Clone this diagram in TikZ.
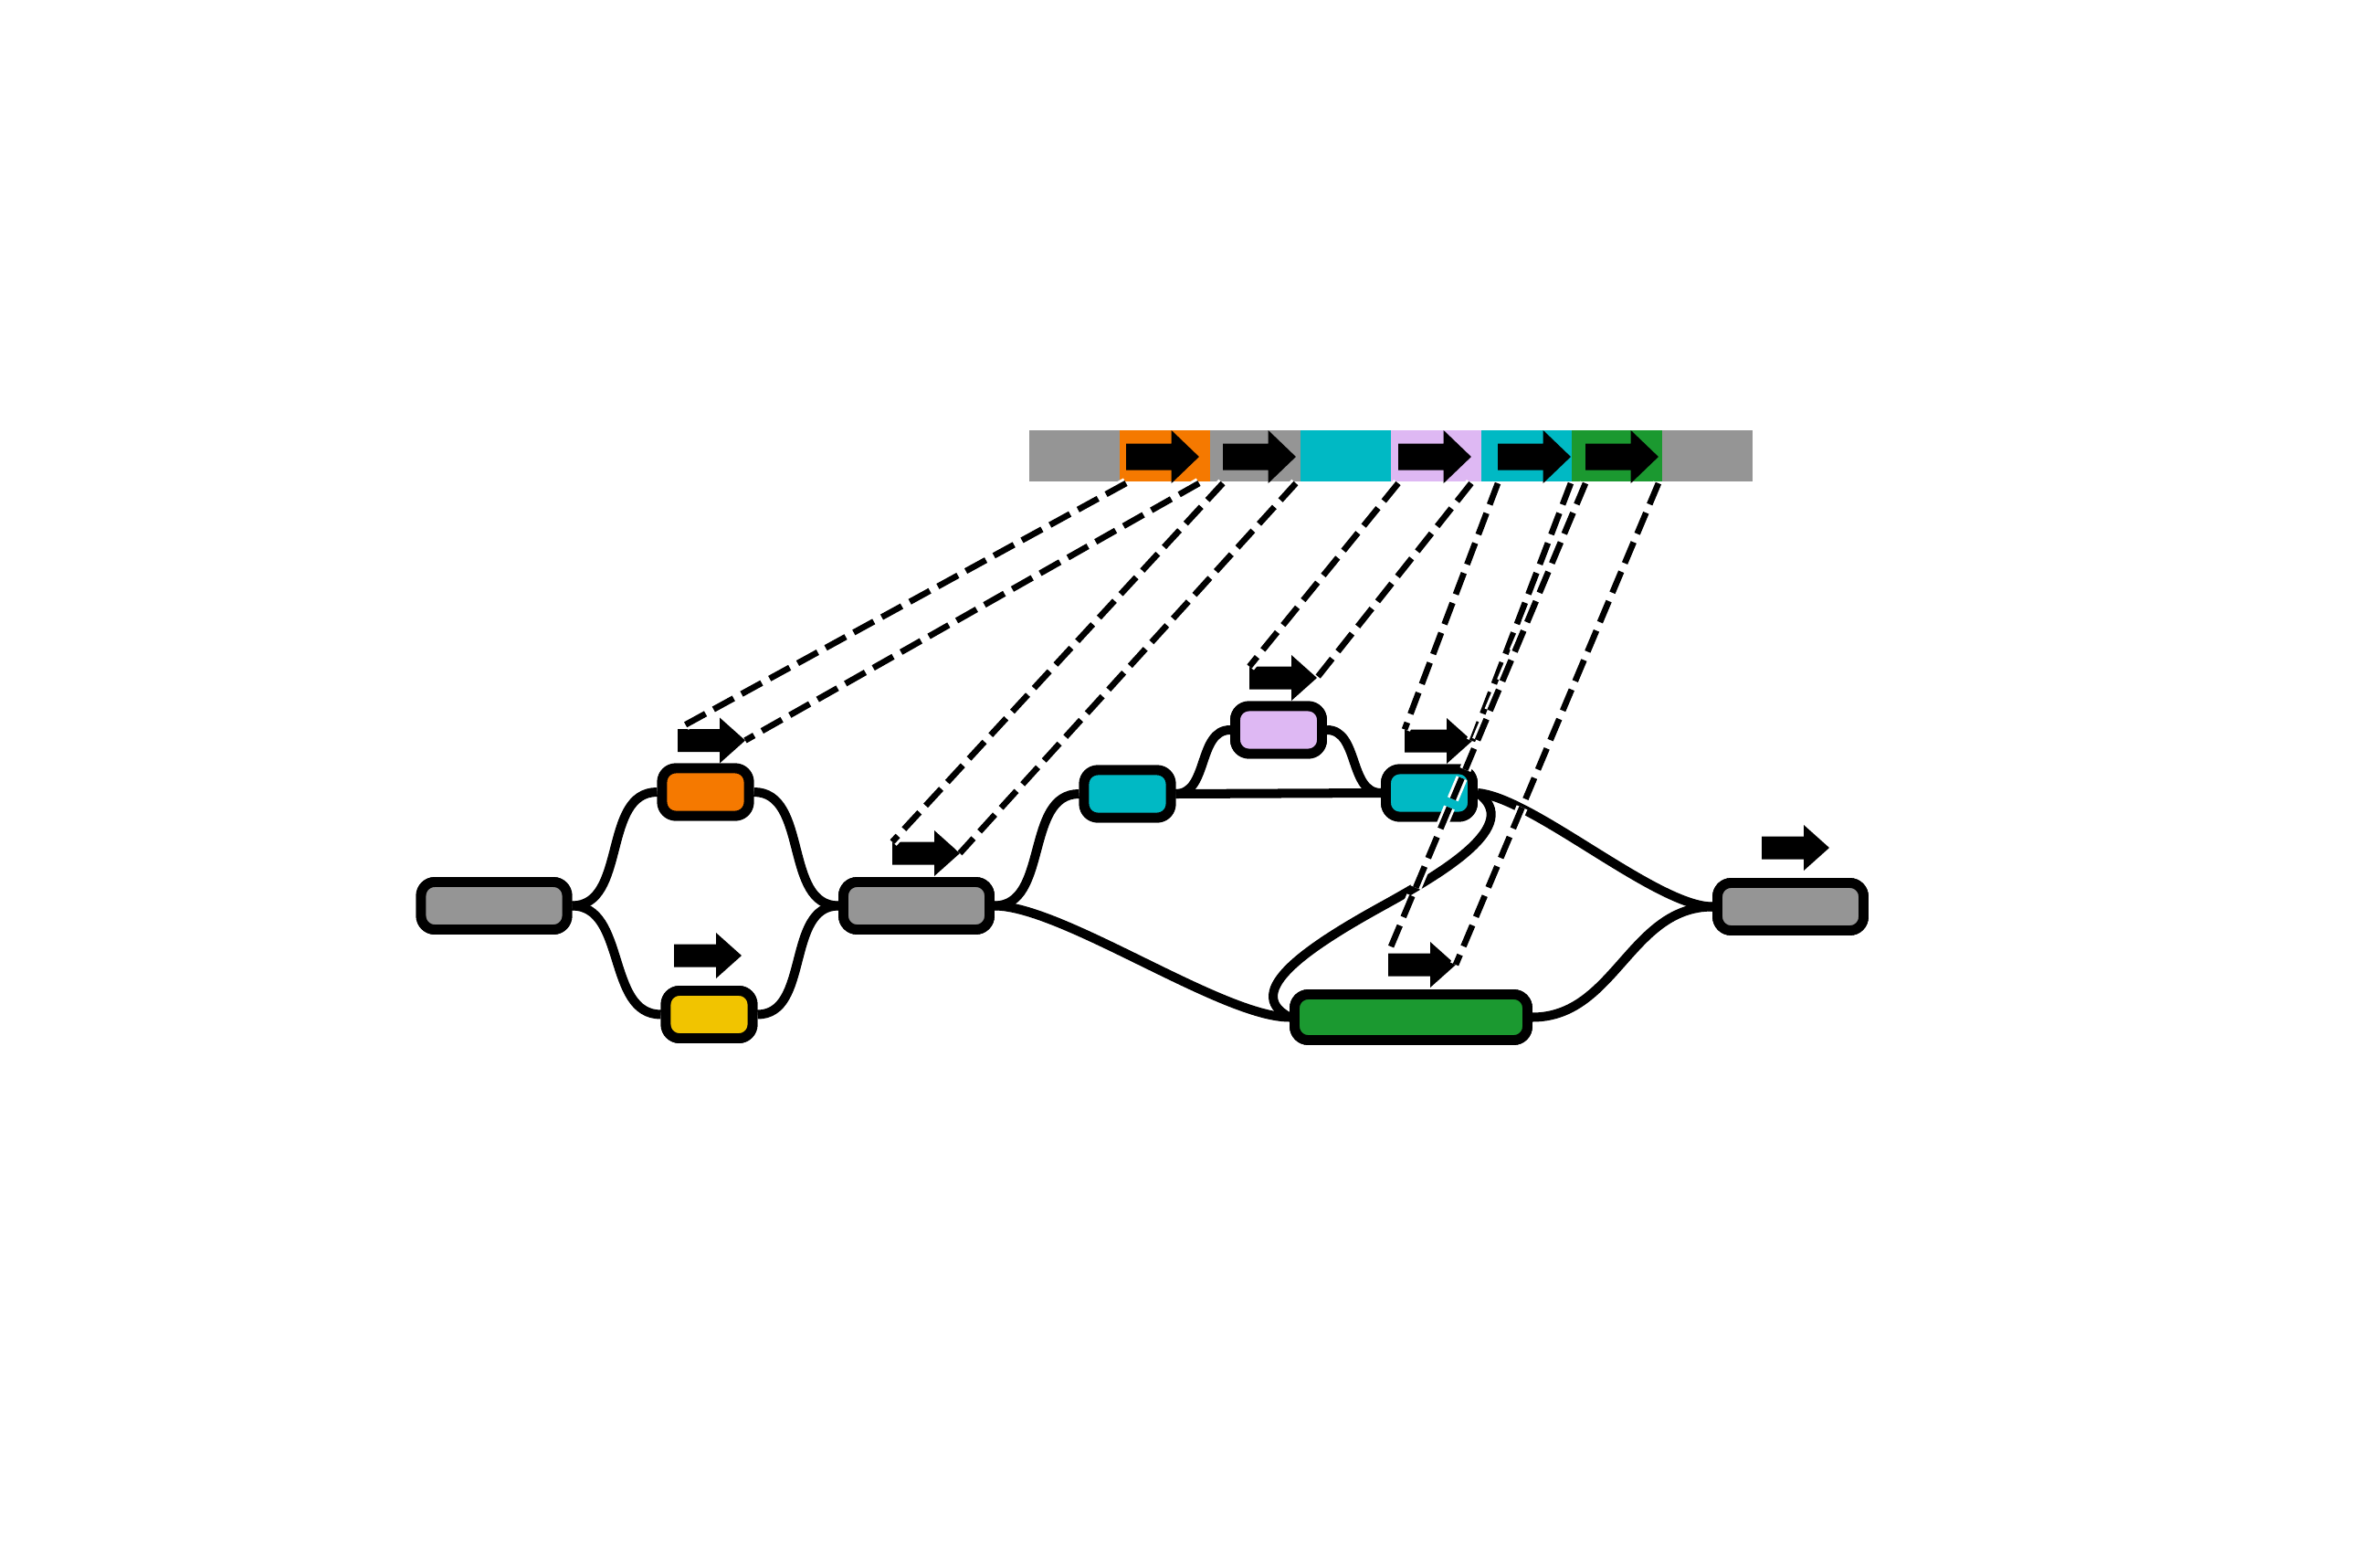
\documentclass[tikz,border=0pt]{standalone}
\usepackage{xcolor}
\usepackage{tikz}

\definecolor{segGray}{RGB}{149,149,149}
\definecolor{segOrange}{RGB}{245,121,0}
\definecolor{segYellow}{RGB}{241,196,0}
\definecolor{segCyan}{RGB}{0,185,196}
\definecolor{segLilac}{RGB}{222,184,243}
\definecolor{segGreen}{RGB}{27,153,48}

\tikzset{
	seg/.style={draw, line width=3.1pt, rounded corners=0.15cm, inner sep=0pt, minimum height=0.52cm, minimum width=0.95cm},
	wideseg/.style={seg, minimum width=1.60cm},
	wire/.style={line width=2.85pt},
	link/.style={line width=1.9pt, dash pattern=on 0.25cm off 0.1cm,
		preaction={draw=white, line width=3.6pt, dash pattern=on 0.25cm off 0.1cm}},
	blockarrow/.pic={
		\fill (0,-0.125) -- (0.46,-0.125) -- (0.46,-0.25) -- (0.74,0) -- (0.46,0.25) -- (0.46,0.125) -- (0,0.125) -- cycle;
		\coordinate (-tl) at (0,0.125);
		\coordinate (-tip) at (0.74,0);
		\coordinate (-bl) at (0,-0.25);
		\coordinate (-br) at (0.74,-0.25);
	}
}

\begin{document}
\begin{tikzpicture}
		\useasboundingbox (0,0) rectangle (26.06,-17.12);
		
		% the genome bar
		\foreach \c [count=\i from 0] in {segGray,segOrange,segGray,segCyan,segLilac,segCyan,segGreen,segGray}{
			\fill[\c] ({11.27+0.99*\i},-4.71) rectangle ++(0.99,-0.56);
		}
		\foreach \s/\x in {Orange/12.33, GrayB/13.39, Lilac/15.31, CyanB/16.40, Green/17.36}{
			\pic[xscale=1.08, yscale=1.16] (bar\s) at (\x,-5.00) {blockarrow};
		}
		
		% graph segments
		\node[wideseg, fill=segGray] (gA) at (5.41,-9.915) {};
		\node[seg, fill=segOrange] (orng) at (7.725,-8.67) {};
		\node[seg, fill=segYellow] (yel) at (7.765,-11.105) {};
		\node[wideseg, fill=segGray] (gB) at (10.035,-9.915) {};
		\node[seg, fill=segCyan] (cyA) at (12.345,-8.69) {};
		\node[seg, fill=segLilac] (lil) at (14.00,-7.99) {};
		\node[seg, fill=segCyan] (cyB) at (15.65,-8.68) {};
		\node[seg, fill=segGreen, minimum width=2.55cm, minimum height=0.50cm] (grn) at (15.45,-11.135) {};
		\node[wideseg, fill=segGray] (gC) at (19.605,-9.925) {};
		
		% edges
		\draw[wire] (gA.east) to[out=0,in=180] (orng.west);
		\draw[wire] (gA.east) to[out=0,in=180] (yel.west);
		\draw[wire] (orng.east) to[out=0,in=180] (gB.west);
		\draw[wire] (yel.east) to[out=0,in=180] (gB.west);
		\draw[wire] (gB.east) to[out=0,in=180] (cyA.west);
		\draw[wire] (gB.east) to[out=0,in=180,looseness=0.55] (grn.west);
		\draw[wire] (cyA.east) to[out=0,in=180] (lil.west);
		\draw[wire] (lil.east) to[out=0,in=180] (cyB.west);
		\draw[wire] (cyA.east) -- (cyB.west);
		\draw[wire] (cyB.east) to[out=-5,in=180,looseness=0.55] (gC.west);
		\draw[wire] (grn.east) to[out=0,in=180] (gC.west);
		\draw[wire] (cyB.east) .. controls +(0.50,-0.35) and +(0.65,0.36) .. (15.15,-9.91)
			.. controls +(-0.80,-0.44) and +(-0.54,0.28) .. (grn.west);
		
		% redraw segments over the edge ends
		\node[wideseg, fill=segGray] at (gA) {};
		\node[seg, fill=segOrange] at (orng) {};
		\node[seg, fill=segYellow] at (yel) {};
		\node[wideseg, fill=segGray] at (gB) {};
		\node[seg, fill=segCyan] at (cyA) {};
		\node[seg, fill=segLilac] at (lil) {};
		\node[seg, fill=segCyan] at (cyB) {};
		\node[seg, fill=segGreen, minimum width=2.55cm, minimum height=0.50cm] at (grn) {};
		\node[wideseg, fill=segGray] at (gC) {};
		
		% small arrows
		\pic (arrOrange) at (7.42,-8.105) {blockarrow};
		\pic (arrYellow) at (7.38,-10.46) {blockarrow};
		\pic (arrGrayB) at (9.77,-9.34) {blockarrow};
		\pic (arrLilac) at (13.68,-7.42) {blockarrow};
		\pic (arrCyanB) at (15.38,-8.11) {blockarrow};
		\pic (arrGreen) at (15.20,-10.56) {blockarrow};
		\pic (arrGC) at (19.29,-9.28) {blockarrow};
		
		\foreach \s in {Orange,GrayB,Lilac,CyanB,Green}{
			\draw[link] (bar\s-bl) -- (arr\s-tl);
			\draw[link] (bar\s-br) -- (arr\s-tip);
		}
	\end{tikzpicture}
\end{document}
